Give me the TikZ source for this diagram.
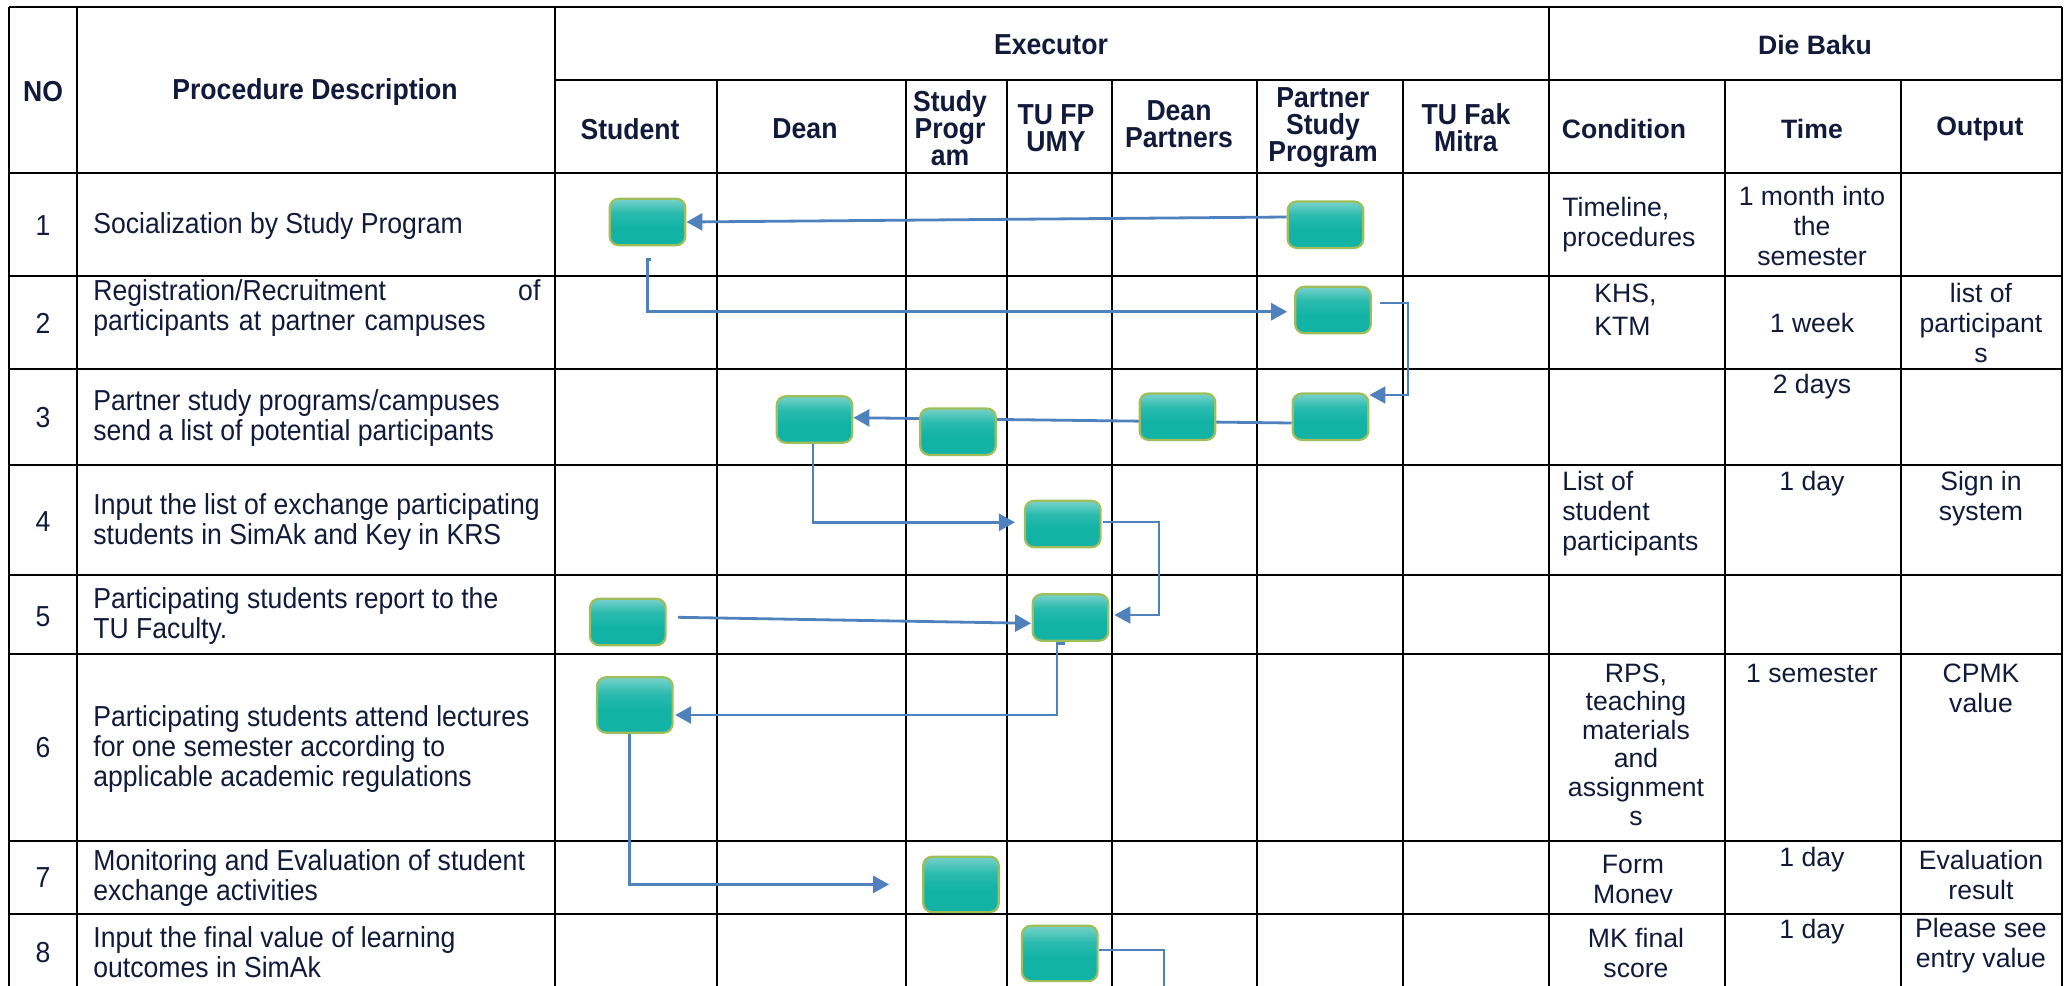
\documentclass[tikz,border=0pt]{standalone}
\usepackage{fontspec}
\setmainfont{Liberation Sans}
\newfontfamily\narrowsf[FakeStretch=0.92]{Liberation Sans}
\usetikzlibrary{arrows.meta,calc}
\pgfdeclarelayer{grid}
\pgfdeclarelayer{links}
\pgfsetlayers{grid,links,main}
\definecolor{ink}{HTML}{111A3A}
\definecolor{boxT}{HTML}{78D2CA}
\definecolor{boxM}{HTML}{2ABBAE}
\definecolor{boxB}{HTML}{12B3A5}
\definecolor{boxE}{HTML}{9EBE5A}
\definecolor{linkc}{HTML}{4F81BD}
\pgfdeclareverticalshading{boxshade}{100bp}{color(0bp)=(boxB); color(25bp)=(boxB); color(45bp)=(boxB); color(60bp)=(boxM); color(75bp)=(boxT); color(100bp)=(boxT)}
\tikzset{
  cell/.style={inner sep=0pt, text=ink, font=\fontsize{13.3}{15}\selectfont},
  ncell/.style={inner sep=0pt, text=ink, font=\narrowsf\fontsize{14.45}{15}\selectfont},
  hd/.style={cell, font=\fontsize{13.3}{13.5}\selectfont\bfseries, align=center},
  nhd/.style={cell, font=\narrowsf\fontsize{14.45}{13.5}\selectfont\bfseries, align=center},
  box/.style={rectangle, rounded corners=4.5pt, draw=boxE, line width=1.1pt, shading=boxshade, minimum width=37.8pt, minimum height=23.2pt, inner sep=0pt},
  tallbox/.style={box, minimum height=27.7pt},
  link/.style={draw=linkc, line width=1.4pt, -{Triangle[length=8pt,width=8.5pt]}},
  thinlink/.style={link, line width=1pt},
  hline/.style={line width=1.1pt, black},
  vline/.style={line width=0.7pt, black}
}
\begin{document}
\begin{tikzpicture}[x=0.5pt, y=-0.5pt]
\useasboundingbox (0,0) rectangle (2069,986);
% ---------- table grid ----------
\begin{pgfonlayer}{grid}
\foreach \yy in {7,173,276,369,465,575,654,841,914} \draw[hline] (9,\yy) -- (2062,\yy);
\draw[hline] (555,80) -- (2062,80);
\foreach \xx in {9,77,555,1549,2062} \draw[hline] (\xx,7) -- (\xx,986);
\foreach \xx in {717,906,1007,1112,1257,1403,1725,1901} \draw[vline] (\xx,80) -- (\xx,986);
\end{pgfonlayer}
% ---------- header ----------
\node[nhd] (hNO) at (43,92) {NO};
\node[nhd] (hPD) at (315,92) {Procedure Description};
\node[nhd] (hEx) at (1051,45) {Executor};
\node[hd] (hDB) at (1815,45) {Die Baku};
\node[nhd] (hSt) at (630,129) {Student};
\node[nhd] (hDe) at (805,129) {Dean};
\node[nhd] (hSP) at (950,128) {Study\\Progr\\am};
\node[nhd] (hTU) at (1056,128) {TU FP\\UMY};
\node[nhd] (hDP) at (1179,124) {Dean\\Partners};
\node[nhd] (hPS) at (1323,128) {Partner\\Study\\Program};
\node[nhd] (hTF) at (1466,128) {TU Fak\\Mitra};
\node[hd] (hCo) at (1624,129) {Condition};
\node[hd] (hTi) at (1812,129) {Time};
\node[hd] (hOu) at (1980,129) {Output};
% ---------- numbers ----------
\node[ncell] (n1) at (43,226) {1};
\node[ncell] (n2) at (43,323) {2};
\node[ncell] (n3) at (43,418) {3};
\node[ncell] (n4) at (43,522) {4};
\node[ncell] (n5) at (43,617) {5};
\node[ncell] (n6) at (43,748) {6};
\node[ncell] (n7) at (43,878) {7};
\node[ncell] (n8) at (43,953) {8};
% ---------- descriptions ----------
\node[ncell, anchor=west] (d1) at (93,226) {Socialization by Study Program};
\node[ncell, anchor=west, align=left, text width=223.5pt] (d2) at (93,308.5) {Registration/Recruitment\hfill of\\participants at partner campuses};
\node[ncell, anchor=west, align=left] (d3) at (93,418.3) {Partner study programs/campuses\\send a list of potential participants};
\node[ncell, anchor=west, align=left] (d4) at (93,521.7) {Input the list of exchange participating\\students in SimAk and Key in KRS};
\node[ncell, anchor=west, align=left] (d5) at (93,616) {Participating students report to the\\TU Faculty.};
\node[ncell, anchor=west, align=left] (d6) at (93,749.4) {Participating students attend lectures\\for one semester according to\\applicable academic regulations};
\node[ncell, anchor=west, align=left] (d7) at (93,878.3) {Monitoring and Evaluation of student\\exchange activities};
\node[ncell, anchor=west, align=left] (d8) at (93,952.5) {Input the final value of learning\\outcomes in SimAk};
% ---------- condition / time / output ----------
\node[cell, anchor=west, align=left] (c1) at (1562,225) {Timeline,\\procedures};
\node[cell, align=center] (t1) at (1812,225.5) {1 month into\\the\\semester};
\node[cell, anchor=west, align=left, font=\fontsize{13.3}{16.7}\selectfont] (c2) at (1594,310) {KHS,\\KTM};
\node[cell] (t2) at (1812,323.3) {1 week};
\node[cell, align=center] (o2) at (1981,323.3) {list of\\participant\\s};
\node[cell] (t3) at (1812,386.7) {2 days};
\node[cell, anchor=west, align=left] (c4) at (1562,513.3) {List of\\student\\participants};
\node[cell] (t4) at (1812,483.3) {1 day};
\node[cell, align=center] (o4) at (1981,498.3) {Sign in\\system};
\node[cell, align=center, font=\fontsize{13.3}{14.3}\selectfont] (c6) at (1636,744.5) {RPS,\\teaching\\materials\\and\\assignment\\s};
\node[cell] (t6) at (1812,673.3) {1 semester};
\node[cell, align=center] (o6) at (1981,688.3) {CPMK\\value};
\node[cell, align=center] (c7) at (1633,879) {Form\\Monev};
\node[cell] (t7) at (1812,860) {1 day};
\node[cell, align=center] (o7) at (1981,875) {Evaluation\\result};
\node[cell, align=center] (c8) at (1636,952.5) {MK final\\score};
\node[cell] (t8) at (1812,931.7) {1 day};
\node[cell, align=center] (o8) at (1981,945.8) {Please see\\entry value};
% ---------- process boxes ----------
\node[box] (B1s) at (647.5,222) {};
\node[box] (B1p) at (1325.5,224.7) {};
\node[box] (B2p) at (1333,310) {};
\node[box] (B3d) at (814.5,419.5) {};
\node[box] (B3sp) at (958,431.7) {};
\node[box] (B3dp) at (1177.5,416.7) {};
\node[box] (B3p) at (1330.5,416.7) {};
\node[box] (B4tu) at (1062.8,524) {};
\node[box] (B5s) at (627.8,622) {};
\node[box] (B5tu) at (1070.5,617.5) {};
\node[tallbox] (B6s) at (634.8,705) {};
\node[tallbox] (B7sp) at (961,884.4) {};
\node[tallbox] (B8tu) at (1059.8,953.4) {};
% ---------- connectors ----------
\coordinate (c3) at (1408,395);
\coordinate (c6) at (1159,615);
\coordinate (t9) at ($(B7sp.west)+(-33,0)$);
\coordinate (e10) at (1164,986);
\begin{pgfonlayer}{links}
\draw[link] ($(B1p.west)+(0,-7.7)$) -- (B1s.east);
\draw[link] ($(B1s.south)+(3,13)$) -- ++(-3,0) |- ($(B2p.west)+(-7,1.7)$);
\draw[thinlink] ($(B2p.east)+(8,-7.3)$) -| (c3) -- (c3 -| B3p.east);
\draw[link] ($(B3p.west)+(0,6.3)$) -- ($(B3d.east)+(0,-1.8)$);
\draw[link] ($(B3d.south)+(-1.5,0)$) |- ($(B4tu.west)+(-9,-1.7)$);
\draw[thinlink] ($(B4tu.east)+(1,-2.3)$) -| (c6) -- ($(B5tu.east)+(5,-2.5)$);
\draw[link] ($(B5s.east)+(11.5,-4.7)$) -- ($(B5tu.west)+(-0.5,5.8)$);
\draw[link] ($(B5tu.south)+(-5.5,2)$) -- ++(-8,0) |- ($(B6s.east)+(1.5,10)$);
\draw[link] ($(B6s.south)+(-5,0)$) |- (t9);
\draw[thinlink, -] ($(B8tu.east)+(0,-3.4)$) -| (e10);
\end{pgfonlayer}
\end{tikzpicture}
\end{document}
